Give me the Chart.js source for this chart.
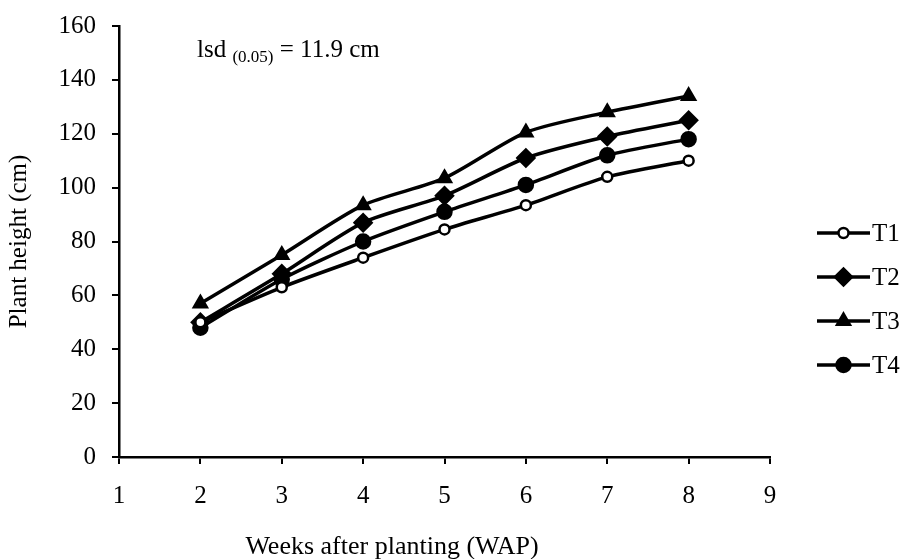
<!DOCTYPE html>
<html>
<head>
<meta charset="utf-8">
<script src="https://cdn.jsdelivr.net/npm/chart.js@4.4.1/dist/chart.umd.min.js"></script>
<style>
    html, body { margin: 0; padding: 0; background: #fff; }
    #wrap { width: 908px; height: 559px; }
</style>
</head>
<body>
<div id="wrap"><canvas id="heightChart" width="908" height="559"></canvas></div>
<script>
"use strict";

// weeks after planting
const weeks = [2, 3, 4, 5, 6, 7, 8];
const seriesNames = ["T1", "T2", "T3", "T4"];
const t1 = [50, 63, 74, 84.5, 93.5, 104, 110];
const t2 = [50, 68, 87, 97, 111, 119, 125];
const t3 = [57, 75, 93.5, 103.5, 120.5, 128, 134];
const t4 = [48, 66, 80, 91, 101, 112, 118];
const yTicks = [0, 20, 40, 60, 80, 100, 120, 140, 160];
const xTicks = [1, 2, 3, 4, 5, 6, 7, 8, 9];
const xTitle = "Weeks after planting (WAP)";

const FONT = "'Liberation Serif', 'Times New Roman', serif";
const FSIZE = 25;

(function() {
    function pts(vals) {
        return weeks.map((w, i) => ({ x: w, y: vals[i] }));
    }

    function makeSet(name, vals, style, radius, fill) {
        return {
            label: name,
            data: pts(vals),
            borderColor: "#000",
            borderWidth: 3.5,
            pointStyle: style,
            pointRadius: radius,
            pointHoverRadius: radius,
            pointBackgroundColor: fill,
            pointBorderColor: "#000",
            pointBorderWidth: 2.5,
            tension: 0.25,
            fill: false,
        };
    }

    // line + marker legend on the right, like the excel one
    const sideLegend = {
        id: "sideLegend",
        afterDraw(chart) {
            const ctx = chart.ctx;
            const x0 = 817, x1 = 870;
            const top = 233, gap = 44;
            ctx.save();
            chart.data.datasets.forEach((ds, i) => {
                const y = top + i * gap;
                ctx.strokeStyle = "#000";
                ctx.lineWidth = 3.5;
                ctx.beginPath();
                ctx.moveTo(x0, y);
                ctx.lineTo(x1, y);
                ctx.stroke();
                ctx.fillStyle = ds.pointBackgroundColor;
                ctx.lineWidth = 2.5;
                Chart.helpers.drawPoint(ctx, {
                    pointStyle: ds.pointStyle,
                    radius: ds.pointRadius,
                    borderWidth: 2.5,
                    rotation: 0,
                }, (x0 + x1) / 2, y);
                ctx.fillStyle = "#000";
                ctx.font = FSIZE + "px " + FONT;
                ctx.textBaseline = "middle";
                ctx.textAlign = "left";
                ctx.fillText(ds.label, x1 + 2, y + 1);
            });
            ctx.restore();
        }
    };

    // lsd note with subscript + the x axis title (sits left of centre in the original)
    const notes = {
        id: "notes",
        afterDraw(chart) {
            const ctx = chart.ctx;
            let x = 197;
            const base = 57;
            ctx.save();
            ctx.fillStyle = "#000";
            ctx.textBaseline = "alphabetic";
            ctx.font = FSIZE + "px " + FONT;
            ctx.fillText("lsd ", x, base);
            x += ctx.measureText("lsd ").width;
            ctx.font = "17px " + FONT;
            ctx.fillText("(0.05)", x, base + 5);
            x += ctx.measureText("(0.05)").width;
            ctx.font = FSIZE + "px " + FONT;
            ctx.fillText(" = 11.9 cm", x, base);

            ctx.font = "26px " + FONT;
            ctx.textAlign = "center";
            ctx.textBaseline = "middle";
            ctx.fillText(xTitle, 392, 547);
            ctx.restore();
        }
    };

    function Start() {
        const ctx = document.getElementById("heightChart").getContext("2d");
        new Chart(ctx, {
            type: "line",
            data: {
                datasets: [
                    makeSet(seriesNames[0], t1, "circle", 5, "#fff"),
                    makeSet(seriesNames[1], t2, "rectRot", 8.5, "#000"),
                    makeSet(seriesNames[2], t3, "triangle", 7.5, "#000"),
                    makeSet(seriesNames[3], t4, "circle", 7, "#000"),
                ],
            },
            options: {
                responsive: false,
                animation: false,
                layout: { padding: { top: 26, right: 138, left: 0, bottom: 0 } },
                plugins: {
                    legend: { display: false },
                    tooltip: { enabled: false },
                },
                scales: {
                    x: {
                        type: "linear",
                        min: xTicks[0],
                        max: xTicks[xTicks.length - 1],
                        afterBuildTicks: (axis) => { axis.ticks = xTicks.map(v => ({ value: v })); },
                        afterFit: (axis) => {
                            axis.height = 102;
                            axis.paddingLeft = 0;
                            axis.paddingRight = 0;
                        },
                        grid: { drawOnChartArea: false, color: "#000", lineWidth: 2, tickLength: 7 },
                        border: { color: "#000", width: 2.5 },
                        ticks: { color: "#000", font: { family: FONT, size: FSIZE }, padding: 17 },
                        title: { display: false },
                    },
                    y: {
                        min: yTicks[0],
                        max: yTicks[yTicks.length - 1],
                        afterBuildTicks: (axis) => { axis.ticks = yTicks.map(v => ({ value: v })); },
                        afterFit: (axis) => {
                            axis.width = 119;
                            axis.paddingTop = 0;
                            axis.paddingBottom = 0;
                        },
                        grid: { drawOnChartArea: false, color: "#000", lineWidth: 2, tickLength: 7 },
                        border: { color: "#000", width: 2.5 },
                        ticks: { color: "#000", font: { family: FONT, size: FSIZE }, padding: 16 },
                        title: {
                            display: true,
                            text: "Plant height (cm)",
                            color: "#000",
                            font: { family: FONT, size: FSIZE },
                            padding: { top: 4, bottom: 0 },
                        },
                    },
                },
            },
            plugins: [sideLegend, notes],
        });
    }

    window.addEventListener("load", Start);
})();
</script>
</body>
</html>
